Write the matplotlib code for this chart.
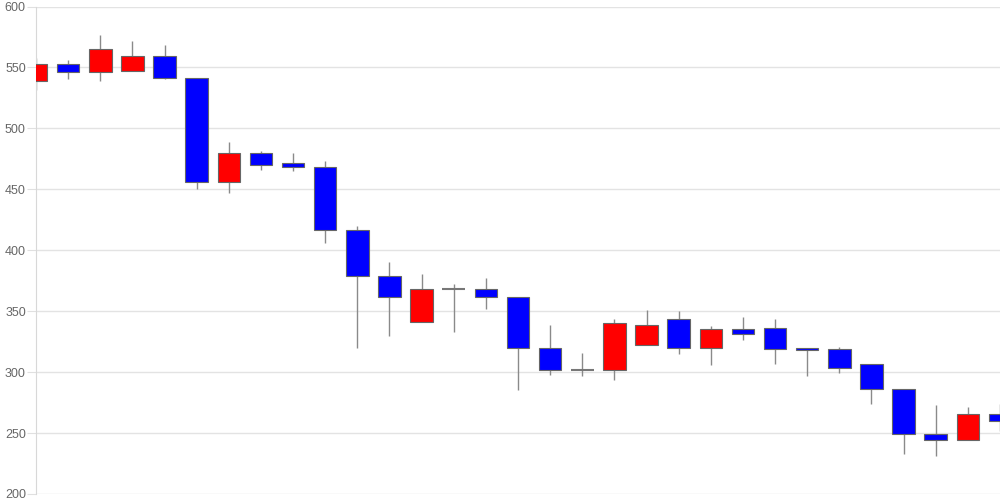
import matplotlib
matplotlib.use('Agg')
import matplotlib.pyplot as plt

# Daten der Kerzen (Eröffnung, Hoch, Tief, Schluss)
opens  = [539, 552.5, 546.5, 547, 559, 541, 456, 479.5, 472, 468,
          416.5, 379, 341, 368.5, 368.5, 361.5, 320, 301.5, 301.5, 322,
          344, 320, 335, 336.5, 319.5, 319.3, 307, 286, 249, 244, 265.5]
highs  = [558, 556.5, 577, 571.5, 568.5, 541.5, 488.5, 481.5, 479.5, 473,
          420, 390, 380.5, 372.5, 377, 361.5, 338.5, 315.5, 343.5, 351,
          350, 337.5, 345, 343.5, 319.5, 321, 307, 286, 273, 271.5, 274]
lows   = [531.5, 540.5, 538.5, 547, 540.5, 450, 447, 465.5, 465, 406,
          320, 329.5, 341, 333, 352, 285.5, 298, 296.5, 293.5, 322,
          315, 305.5, 326, 307, 297, 299, 274, 232.5, 231, 244, 252]
closes = [552.5, 546.5, 565.5, 559, 541, 456, 479.5, 470, 468, 416.5,
          379, 361.5, 368.5, 368.5, 361.5, 320, 301.5, 301.5, 340, 338.5,
          320, 335, 331, 319, 318.5, 303, 286, 249, 244, 265.5, 260]

y_ticks = [200, 250, 300, 350, 400, 450, 500, 550, 600]

fig = plt.figure(figsize=(10, 5), dpi=100)
ax = fig.add_axes([0.036, 0.012, 0.964, 0.975])

xs = list(range(len(opens)))
width = 0.7

# Dochte
ax.vlines(xs, lows, highs, color='#8a8a8a', linewidth=1, zorder=2)

# Körper
for x, o, c in zip(xs, opens, closes):
    if abs(c - o) < 0.01:
        ax.hlines(o, x - width / 2, x + width / 2, color='#777777', linewidth=1.5, zorder=3)
        continue
    col = 'red' if c > o else 'blue'
    ax.bar(x, abs(c - o), bottom=min(o, c), width=width, color=col,
           edgecolor='#666666', linewidth=0.8, zorder=3)

ax.set_xlim(0, len(opens) - 1)
ax.set_ylim(200, 600)
ax.set_yticks(y_ticks)
ax.set_xticks([])
ax.grid(axis='y', color='#e3e3e3', linewidth=1)
ax.set_axisbelow(True)
for s in ['top', 'right', 'bottom']:
    ax.spines[s].set_visible(False)
ax.spines['left'].set_color('#d8d8d8')
ax.tick_params(axis='y', length=6.5, color='#e0e0e0', pad=0.8,
               labelsize=9, labelcolor='#666666')
for lbl in ax.get_yticklabels():
    lbl.set_fontfamily('Liberation Sans')

plt.savefig('out.png', dpi=100)
